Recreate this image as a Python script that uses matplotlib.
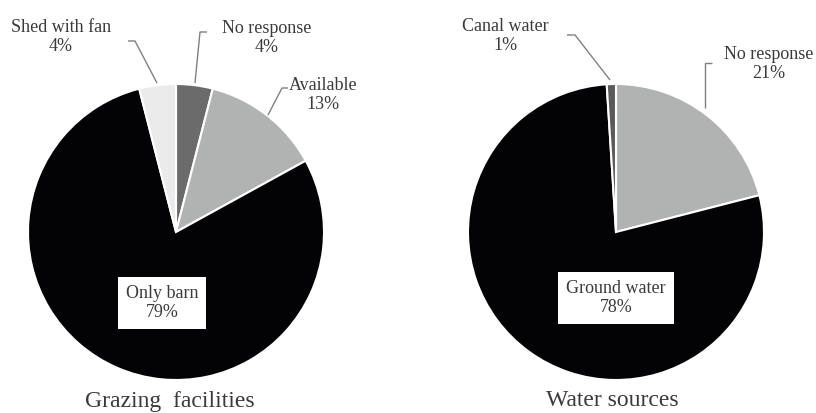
import matplotlib.pyplot as plt

plt.rcParams['font.family'] = 'Liberation Serif'

# left pie: grazing facilities
graze_labels = ["No response", "Available", "Only barn", "Shed with fan"]
graze_values = [4, 13, 79, 4]
graze_colors = ["#6b6b6b", "#b1b3b3", "#030305", "#ebebeb"]

# right pie: water sources
water_labels = ["No response", "Ground water", "Canal water"]
water_values = [21, 78, 1]
water_colors = ["#b1b3b3", "#030305", "#5a5a5a"]

W, H = 816, 413
fig = plt.figure(figsize=(W / 100, H / 100), dpi=100)
ax = fig.add_axes([0, 0, 1, 1])


def py(y):
    # pixel row -> data y
    return H - y


R = 148
wedge = dict(edgecolor='white', linewidth=1.5)
ax.pie(graze_values, colors=graze_colors, startangle=90, counterclock=False,
       center=(176, py(232)), radius=R, wedgeprops=wedge, frame=True)
ax.pie(water_values, colors=water_colors, startangle=90, counterclock=False,
       center=(616, py(232)), radius=R, wedgeprops=wedge, frame=True)
ax.set_xlim(0, W)
ax.set_ylim(0, H)
ax.set_aspect('auto')
ax.axis('off')

fs = 13
line_c = '#808080'
txt_c = '#3a3a3a'


def label(text, x, y, lx, ly, box=False):
    kw = dict(ha='center', va='center', fontsize=fs, color=txt_c, linespacing=1.12)
    if box:
        kw['bbox'] = dict(boxstyle='square,pad=0.45', fc='white', ec='none')
    ax.text(x, py(y), text, **kw)
    if lx:
        ax.plot(lx, [py(v) for v in ly], color=line_c, lw=1, solid_capstyle='butt')


label(f"{graze_labels[3]}\n{graze_values[3]}%", 61, 37, [128, 135, 157], [41, 41, 83])
label(f"{graze_labels[0]}\n{graze_values[0]}%", 267, 38, [207, 200, 195], [32, 32, 83])
label(f"{graze_labels[1]}\n{graze_values[1]}%", 323, 95, [288, 282, 268], [88, 88, 115])
label(f"{graze_labels[2]}\n{graze_values[2]}%", 162, 303, None, None, box=True)

label(f"{water_labels[2]}\n{water_values[2]}%", 505, 36, [567, 575, 610], [35, 35, 80])
label(f"{water_labels[0]}\n{water_values[0]}%", 769, 64, [712, 705, 705], [63, 63, 108])
label(f"{water_labels[1]}\n{water_values[1]}%", 616, 298, None, None, box=True)

ax.text(170, py(401), "Grazing  facilities", ha='center', va='center', fontsize=17, color=txt_c)
ax.text(612, py(401), "Water sources", ha='center', va='center', fontsize=17, color=txt_c)

fig.savefig('out.png', dpi=100)
